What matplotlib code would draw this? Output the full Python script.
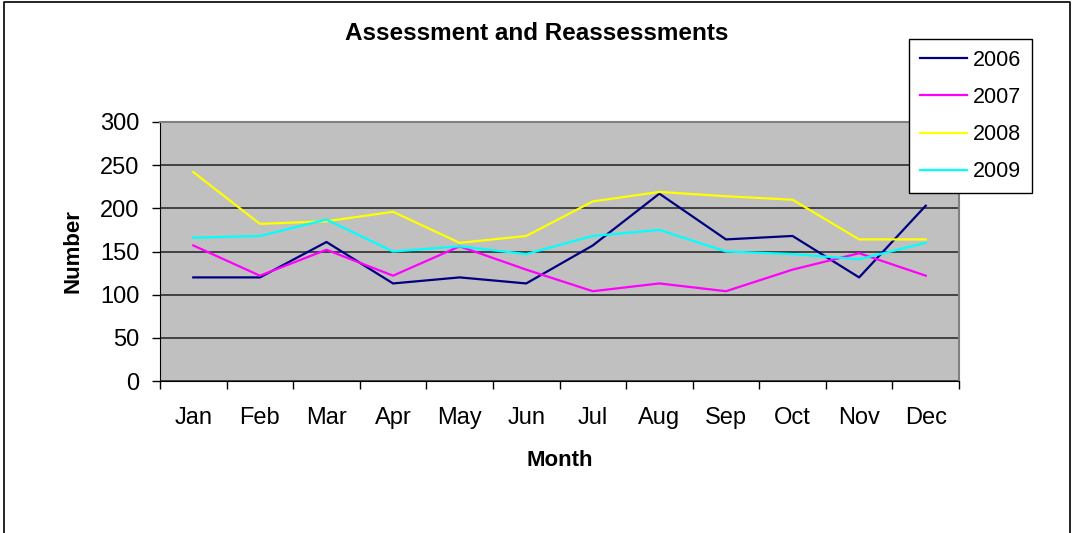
import matplotlib.pyplot as plt
from matplotlib.lines import Line2D

plt.rcParams['font.family'] = ['Liberation Sans', 'DejaVu Sans']

months = ['Jan', 'Feb', 'Mar', 'Apr', 'May', 'Jun',
          'Jul', 'Aug', 'Sep', 'Oct', 'Nov', 'Dec']
y2006 = [120, 120, 161, 113, 120, 113, 157, 217, 164, 168, 120, 203]
y2007 = [157, 122, 152, 122, 156, 129, 104, 113, 104, 129, 148, 122]
y2008 = [242, 182, 185, 196, 160, 168, 208, 219, 214, 210, 164, 164]
y2009 = [166, 168, 187, 150, 156, 147, 168, 175, 150, 147, 141, 160]
series = [('2006', y2006, '#000080'), ('2007', y2007, '#FF00FF'),
          ('2008', y2008, '#FFFF00'), ('2009', y2009, '#00FFFF')]

fig = plt.figure(figsize=(10.73, 5.33), dpi=100)
ax = fig.add_axes([160/1073, 1-381/533, 799/1073, 259/533])
ax.set_facecolor('#C0C0C0')

x = range(len(months))
for name, vals, col in series:
    ax.plot(x, vals, color=col, lw=1.6, label=name, zorder=3)

ax.set_xlim(-0.5, 11.5)
ax.set_ylim(0, 300)
ax.set_yticks(range(0, 301, 50))
ax.grid(axis='y', color='#202020', lw=1.1, zorder=1)
ax.set_axisbelow(True)

# category labels centred, tick marks between categories
ax.set_xticks(list(x))
ax.set_xticklabels(months)
ax.tick_params(axis='x', which='major', length=0, pad=19, labelsize=17)
ax.set_xticks([i - 0.5 for i in range(13)], minor=True)
ax.tick_params(axis='x', which='minor', length=6, width=1, direction='out')
ax.tick_params(axis='y', length=6, width=1, direction='out', pad=9, labelsize=17)

for s in ['left', 'bottom']:
    ax.spines[s].set_color('black')
for s in ['top', 'right']:
    ax.spines[s].set_color('#808080')
    ax.spines[s].set_linewidth(1.5)

ax.set_xlabel('Month', fontsize=16, fontweight='bold', labelpad=15)
ax.set_ylabel('Number', fontsize=16, fontweight='bold', labelpad=12)
fig.text(0.5, 1-33/533, 'Assessment and Reassessments', ha='center', va='center',
         fontsize=17.5, fontweight='bold')

leg = fig.legend(loc='upper left', bbox_to_anchor=(909/1073, 1-39/533),
                 frameon=True, fancybox=False, framealpha=1, edgecolor='black',
                 fontsize=15.5, handlelength=2.2, handletextpad=0.25,
                 labelspacing=0.75, borderpad=0.5, borderaxespad=0)
leg.get_frame().set_linewidth(1)
for h in leg.get_lines():
    h.set_linewidth(1.6)

# outer chart border
fig.add_artist(Line2D([4/1073, 4/1073, 1070/1073, 1070/1073],
                      [0, 1-2/533, 1-2/533, 0], color='black', lw=1.2))

fig.savefig('out.png', dpi=100)
